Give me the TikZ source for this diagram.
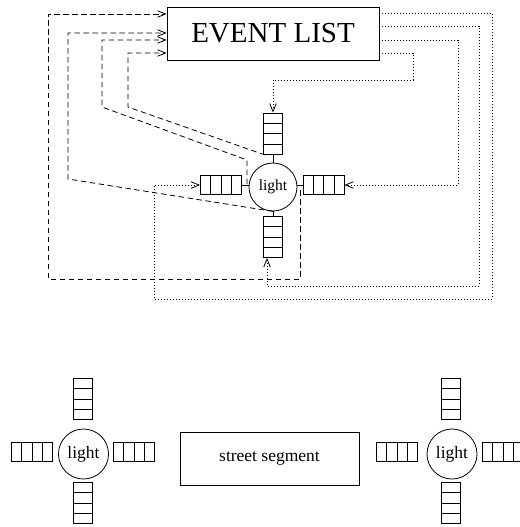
\documentclass[tikz,border=0pt]{standalone}
\usepackage{fontspec}
\setmainfont{Liberation Serif}
\usetikzlibrary{calc, arrows.meta}

\tikzset{
  queueh/.style={draw, minimum width=41pt, minimum height=19pt, inner sep=0pt},
  queuev/.style={draw, minimum width=19pt, minimum height=41pt, inner sep=0pt},
  lightnode/.style={draw, circle, minimum size=48pt, inner sep=0pt},
  toevents/.style={dash pattern=on 5.5pt off 3.5pt, -{Straight Barb[length=8pt,width=6.5pt]}},
  tolight/.style={dash pattern=on 0.9pt off 2.1pt, -{Straight Barb[length=8pt,width=6.5pt]}},
}

\begin{document}
\begin{tikzpicture}[x=1pt, y=-1pt, line width=0.8pt]
    \useasboundingbox (0,0) rectangle (519,527);
    % upper part: one light and the event list
    \node[draw, minimum width=212pt, minimum height=53pt, font=\fontsize{29}{29}\selectfont] (evl) at (273,33.5) {EVENT LIST};
    \node[lightnode, font=\fontsize{15.5}{15.5}\selectfont] (lt) at (273,187) {light};
    \node[queuev] (nq) at (273,133.5) {};
    \node[queuev] (sq) at (273,237) {};
    \node[queueh] (wq) at (221,185) {};
    \node[queueh] (eq) at (323.5,185) {};
    \draw (nq) -- (lt);
    \draw (lt) -- (sq);
    \draw (wq.east) -- (lt.west |- wq.east);
    \draw (eq.west) -- (lt.east |- eq.west);

    % lower part: two lights and a street segment
    \node[lightnode, minimum size=50pt, font=\fontsize{17.5}{17.5}\selectfont] (ll) at (83.5,454) {light};
    \node[queuev] (lln) at (82.5,399) {};
    \node[queuev] (lls) at (82.5,503) {};
    \node[queueh] (llw) at (32,452) {};
    \node[queueh] (lle) at (134,452) {};
    \node[draw, minimum width=179pt, minimum height=53pt, font=\fontsize{17.5}{17.5}\selectfont] (seg) at (269.5,458.5) {street segment};
    \node[lightnode, minimum size=50pt, font=\fontsize{17.5}{17.5}\selectfont] (rl) at (452,454) {light};
    \node[queuev] (rln) at (450.5,399) {};
    \node[queuev] (rls) at (450.5,503) {};
    \node[queueh] (rlw) at (397,452) {};
    \node[queueh] (rle) at (503,452) {};

    % queue cells
    \foreach \q in {wq,eq,llw,lle,rlw,rle}
        \foreach \k in {1,2,3}
            \draw ($(\q.north west)!\k/4!(\q.north east)$) -- ($(\q.south west)!\k/4!(\q.south east)$);
    \foreach \q in {nq,sq,lln,lls,rln,rls}
        \foreach \k in {1,2,3}
            \draw ($(\q.north west)!\k/4!(\q.south west)$) -- ($(\q.north east)!\k/4!(\q.south east)$);

    % events sent to the list
    \draw[toevents] ($(lt.center)+(27,3)$) -- (300,279) -| (48,14) -- (evl.west |- 0,14);
    \draw[toevents] (lt.south) -- (68,179) -- (68,33) -- (evl.west |- 0,33);
    \draw[toevents] ($(lt.center)+(-26,-3)$) -- (247,160) -- (102,107) -- (102,40) -- (evl.west |- 0,40);
    \draw[toevents] ($(lt.center)+(-8,-32)$) -- (128,107) -- (128,53) -- (evl.west |- 0,53);

    % events sent to the queues
    \draw[tolight] (evl.east |- 0,53) -| (413,80) -| (nq.north);
    \draw[tolight] (evl.east |- 0,40) -| (458,185) -- (eq.east);
    \draw[tolight] (evl.east |- 0,26) -| (479,286) -| (sq.south -| 267,0);
    \draw[tolight] (evl.east |- 0,13) -| (492,299) -| (154,185) -- (wq.west);
\end{tikzpicture}
\end{document}
